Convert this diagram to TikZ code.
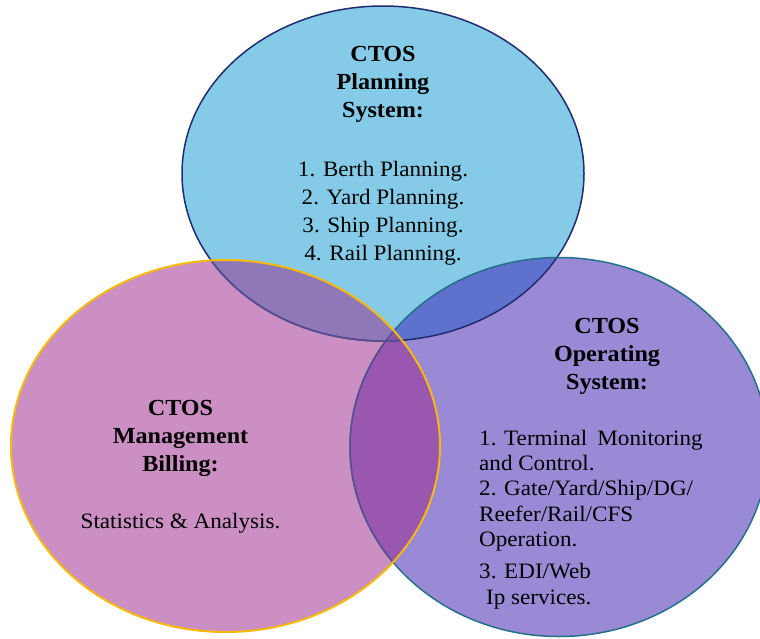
\documentclass[tikz,border=0pt]{standalone}
\usepackage{fontspec}
\setmainfont{Liberation Serif}[FakeStretch=1.05]
\usetikzlibrary{positioning}
\definecolor{planblue}{HTML}{85CBE7}
\definecolor{billpink}{HTML}{CB8FC3}
\definecolor{operpurple}{HTML}{9A8AD6}
\definecolor{planbill}{HTML}{8F78B7}
\definecolor{planoper}{HTML}{5E71CC}
\definecolor{billoper}{HTML}{9A57B0}
\definecolor{allthree}{HTML}{8A55AE}
\definecolor{planedge}{HTML}{1F2C70}
\definecolor{billedge}{HTML}{F6B90C}
\definecolor{operedge}{HTML}{23708A}
\definecolor{dimedge}{HTML}{5A4E92}
%% the three sets
\def\planset{(383,173.5) ellipse [x radius=201pt, y radius=167.5pt]}
\def\billset{(225.5,446) ellipse [x radius=214.5pt, y radius=186pt]}
\def\operset{(559,447) ellipse [x radius=209pt, y radius=189.5pt]}

\begin{document}
\begin{tikzpicture}
[x=1pt,y=-1pt,
    head/.style={font=\fontsize{23}{28}\selectfont\bfseries,align=center,inner sep=0pt},
    body/.style={font=\fontsize{22}{28}\selectfont,inner sep=0pt},
    setline/.style={line width=1.5pt}]
\useasboundingbox (0,0) rectangle (760,638);
%% fills
\fill[planblue] \planset;
\fill[billpink] \billset;
\fill[operpurple] \operset;
\begin{scope}
    \clip \planset;
    \fill[planbill] \billset;
    \fill[planoper] \operset;
\end{scope}
\begin{scope}
    \clip \billset;
    \fill[billoper] \operset;
    \clip \planset;
    \fill[allthree] \operset;
\end{scope}
%% outlines
\draw[setline,planedge] \planset;
\draw[setline,operedge] \operset;
\begin{scope}
    \clip \billset;
    \draw[setline,dimedge] \planset;
    \draw[setline,dimedge] \operset;
\end{scope}
\draw[setline,billedge,line width=2pt] \billset;
%% texts (base = last line)
\node (planhead) [head,anchor=base] at (383,117) {CTOS\\Planning\\System:};
\node (planlist) [body,align=center,anchor=base] at (383,260)
    {1. Berth Planning.\\2. Yard Planning.\\3. Ship Planning.\\4. Rail Planning.};
\node (billhead) [head,anchor=base] at (180.5,471) {CTOS\\Management\\Billing:};
\node (billlist) [body,anchor=base] at (180.5,528) {Statistics \& Analysis.};
\node (operhead) [head,anchor=base] at (607,389) {CTOS\\Operating\\System:};
\node (operlist) [body,align=left,anchor=base west,
    font=\fontsize{22}{25.3}\selectfont] at (479,604)
    {1. Terminal\hspace{0.2em} Monitoring\\and Control.\\2. Gate/Yard/Ship/DG/\\Reefer/Rail/CFS\\Operation.\\[7pt]3. EDI/Web\\\hspace*{7pt}Ip services.};
\end{tikzpicture}
\end{document}
